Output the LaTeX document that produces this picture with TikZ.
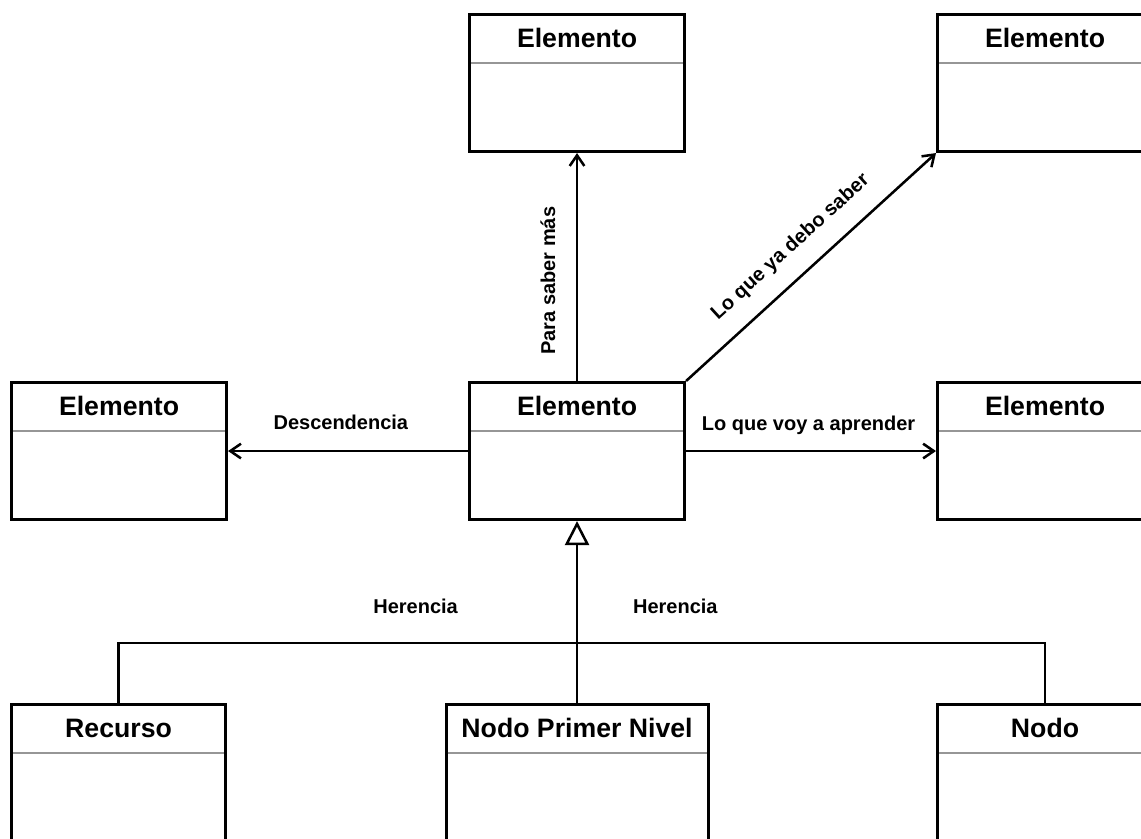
\documentclass[tikz,border=0pt]{standalone}
\usepackage{fontspec}
\setmainfont{Liberation Sans}
\usetikzlibrary{arrows.meta,calc}

\definecolor{divgray}{RGB}{150,150,150}

\tikzset{
  cls/.style={draw=black, line width=2.3pt, fill=white, inner sep=0pt,
    minimum height=102.75pt, anchor=north west},
  ttl/.style={font=\fontsize{20}{24}\selectfont\bfseries, inner sep=0pt},
  divline/.style={draw=divgray, line width=1.2pt},
  conn/.style={line width=1.9pt, -{Straight Barb[length=8pt,width=11pt]}},
  plainline/.style={line width=1.9pt},
  inh/.style={line width=1.9pt, -{Triangle[length=18pt,width=18pt,fill=white]}},
  lbl/.style={font=\fontsize{15}{18}\selectfont\bfseries, inner sep=0pt,
    text height=11pt, text depth=3.5pt},
}

% class box: name, left x, top y, width (px units), title
\newcommand\umlclass[5]{%
  \node[cls, minimum width=#4*0.75pt] (#1) at (#2,#3) {};
  \node[ttl] (#1-title) at ($(#1.north)+(0,25)$) {#5};
  \draw[divline] ($(#1.north west)+(3,50)$) -- ($(#1.north east)+(-3,50)$);
}

\begin{document}
\begin{tikzpicture}[x=0.75pt, y=-0.75pt]
  \useasboundingbox (0,0) rectangle (1141,838);
  \clip (0,0) rectangle (1141,838);

  % classes
  \umlclass{up}{468}{13}{215}{Elemento}
  \umlclass{ur}{936}{13}{215}{Elemento}
  \umlclass{c}{468}{381}{215}{Elemento}
  \umlclass{l}{10}{381}{215}{Elemento}
  \umlclass{r}{936}{381}{215}{Elemento}
  \umlclass{rec}{10}{703}{214}{Recurso}
  \umlclass{npn}{444.5}{703}{262}{Nodo Primer Nivel}
  \umlclass{nodo}{936}{703}{215}{Nodo}

  % associations
  \draw[conn] (c.north) -- (up.south)
    node[lbl, pos=0.44, sloped, above=12pt] (lsaber) {Para saber más};
  \draw[conn] (c.north east) -- (ur.south west)
    node[lbl, pos=0.495, sloped, above=13pt] (lprevio) {Lo que ya debo saber};
  \draw[conn] (c.west) -- (l.east)
    node[lbl, pos=0.53, above=11.5pt] (ldesc) {Descendencia};
  \draw[conn] (c.east) -- (r.west)
    node[lbl, pos=0.49, above=11pt] (lapr) {Lo que voy a aprender};

  % inheritance
  \coordinate (bus) at (0,643);
  \draw[plainline] (rec.north) -- (rec.north |- bus)
    -- node[lbl, pos=0.3206, above=18pt] (lher1) {Herencia}
       node[lbl, pos=0.601, above=18pt] (lher2) {Herencia}
    (nodo.north |- bus) -- (nodo.north);
  \draw[inh] (npn.north) -- (c.south);
\end{tikzpicture}
\end{document}
